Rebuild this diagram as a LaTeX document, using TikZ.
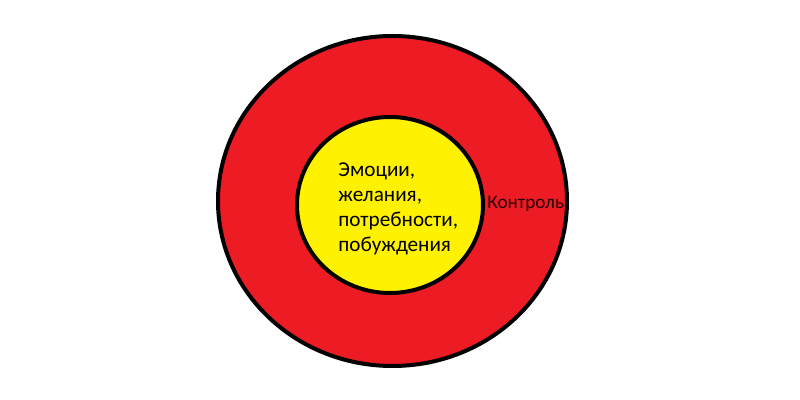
\documentclass[tikz,border=0pt]{standalone}
\usepackage{fontspec}
\setmainfont{Carlito}
\usetikzlibrary{shapes.geometric}
\definecolor{paintred}{RGB}{237,28,36}
\definecolor{paintyellow}{RGB}{255,242,0}
\begin{document}
\begin{tikzpicture}[x=0.5pt,y=-0.5pt,
  ring/.style={ellipse,draw=black,line width=2pt,inner sep=0pt}]
\useasboundingbox (0,0) rectangle (800,400);
% outer and inner ring
\node[ring,fill=paintred,minimum width=174.5pt,minimum height=165pt](outer)at(392.5,201){};
\node[ring,fill=paintyellow,minimum width=93pt,minimum height=88pt](inner)at(390,205){};
%
\node[align=left,inner sep=0pt,anchor=north west,font=\fontsize{10.6}{12.6}\selectfont](needs)at(338,162){Эмоции,\\желания,\\потребности,\\побуждения};
\node[inner sep=0pt,anchor=base west,text=black!85!red,font=\fontsize{9.6}{11}\selectfont](control)at(487,209){Контроль};
\end{tikzpicture}
\end{document}
